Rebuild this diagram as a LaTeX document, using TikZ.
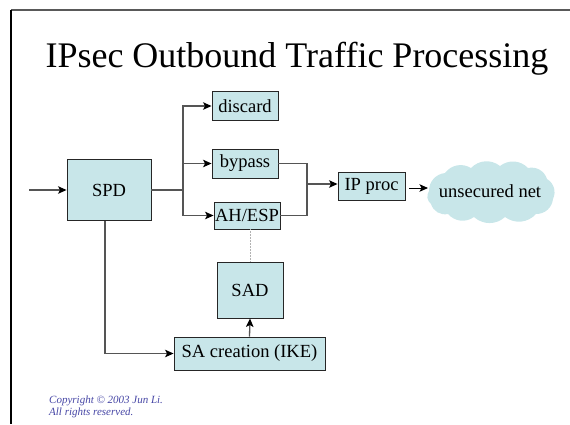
\documentclass[tikz,border=0pt]{standalone}
\usepackage{fontspec}
\setmainfont{Liberation Serif}
\usetikzlibrary{arrows.meta,calc}
\definecolor{boxfill}{RGB}{200,230,233}
\definecolor{copyblue}{RGB}{70,70,165}
\definecolor{wire}{RGB}{85,85,85}
\tikzset{
  x=1pt, y=-1pt,
  procbox/.style={draw=black!85, line width=0.9pt, fill=boxfill, inner sep=0pt,
    font=\fontsize{18.5}{22}\selectfont, text=black},
  wireline/.style={draw=wire, line width=1.3pt},
  arrowline/.style={wireline, -{Stealth[length=8.5pt,width=7.5pt,inset=2pt,color=black]}},
  puff/.style={bend left=42},
}
\begin{document}
\begin{tikzpicture}
\useasboundingbox (0,0) rectangle (570,424);
% slide frame
\draw[gray!70!black, line width=1.8pt] (11,10) -- (570,10);
\draw[black, line width=1.5pt] (11,10) -- (11,424);

% title
\node[anchor=base, font=\fontsize{36}{40}\selectfont] (title) at (297,67) {IPsec Outbound Traffic Processing};

% processing boxes
\node[procbox, minimum width=84pt, minimum height=61pt] (spd) at (109,190) {SPD};
\node[procbox, minimum width=66pt, minimum height=29pt] (discard) at (245,106) {discard};
\node[procbox, minimum width=66pt, minimum height=29pt] (bypass) at (245,163.5) {bypass};
\node[procbox, minimum width=66pt, minimum height=27pt] (ahesp) at (247,215.5) {AH/ESP};
\node[procbox, minimum width=67pt, minimum height=28pt] (ipproc) at (371.5,186) {IP proc};
\node[procbox, minimum width=66pt, minimum height=56pt] (sad) at (250,290) {SAD};
\node[procbox, minimum width=151pt, minimum height=33pt] (sacreate) at (249.5,353.5) {SA creation (IKE)};

% network cloud outline
\fill[boxfill] (429,191) to[puff] (445,173) to[puff] (471,168)
  to[puff] (500,166) to[puff] (528,168) to[puff] (547,179)
  to[puff] (553,199) to[puff] (536,214) to[puff] (505,217)
  to[puff] (474,217) to[puff] (448,214) to[puff] (431,204)
  to[puff] cycle;
\node[inner sep=0pt, font=\fontsize{18.5}{22}\selectfont] (net) at (490,191) {unsecured net};
\coordinate (netin) at (428,188);

% junction points
\coordinate (in) at (29,190);
\coordinate (split) at (183,190);
\coordinate (merge) at (307,184);

% SPD dispatch
\draw[arrowline] (in) -- (spd.west);
\draw[wireline] (spd.east) -- (split);
\draw[arrowline] (split) |- (discard.west);
\draw[arrowline] (split) |- (bypass.west);
\draw[arrowline] (split) |- (ahesp.west);

% merge into IP processing
\draw[wireline] (bypass.east) -| (merge) |- (ahesp.east);
\draw[arrowline] (merge) -- (merge -| ipproc.west);
\draw[draw=black, line width=1pt, -{Stealth[length=8.5pt,width=7.5pt,inset=2pt]}] (ipproc.east |- netin) ++(4,0) -- (netin);

% SA database links
\draw[gray!60, line width=0.5pt, densely dotted] (sad.north |- ahesp.south) -- (sad.north);
\draw[arrowline] ([xshift=-4pt]spd.south) |- (sacreate.west);
\draw[arrowline] (sacreate.north) -- (sad.south);

% copyright note
\node[anchor=north west, align=left, text=copyblue, inner sep=0pt,
      font=\fontsize{11}{11.5}\selectfont\itshape] (copy) at (49,396)
  {Copyright © 2003 Jun Li.\\All rights reserved.};
\end{tikzpicture}
\end{document}
